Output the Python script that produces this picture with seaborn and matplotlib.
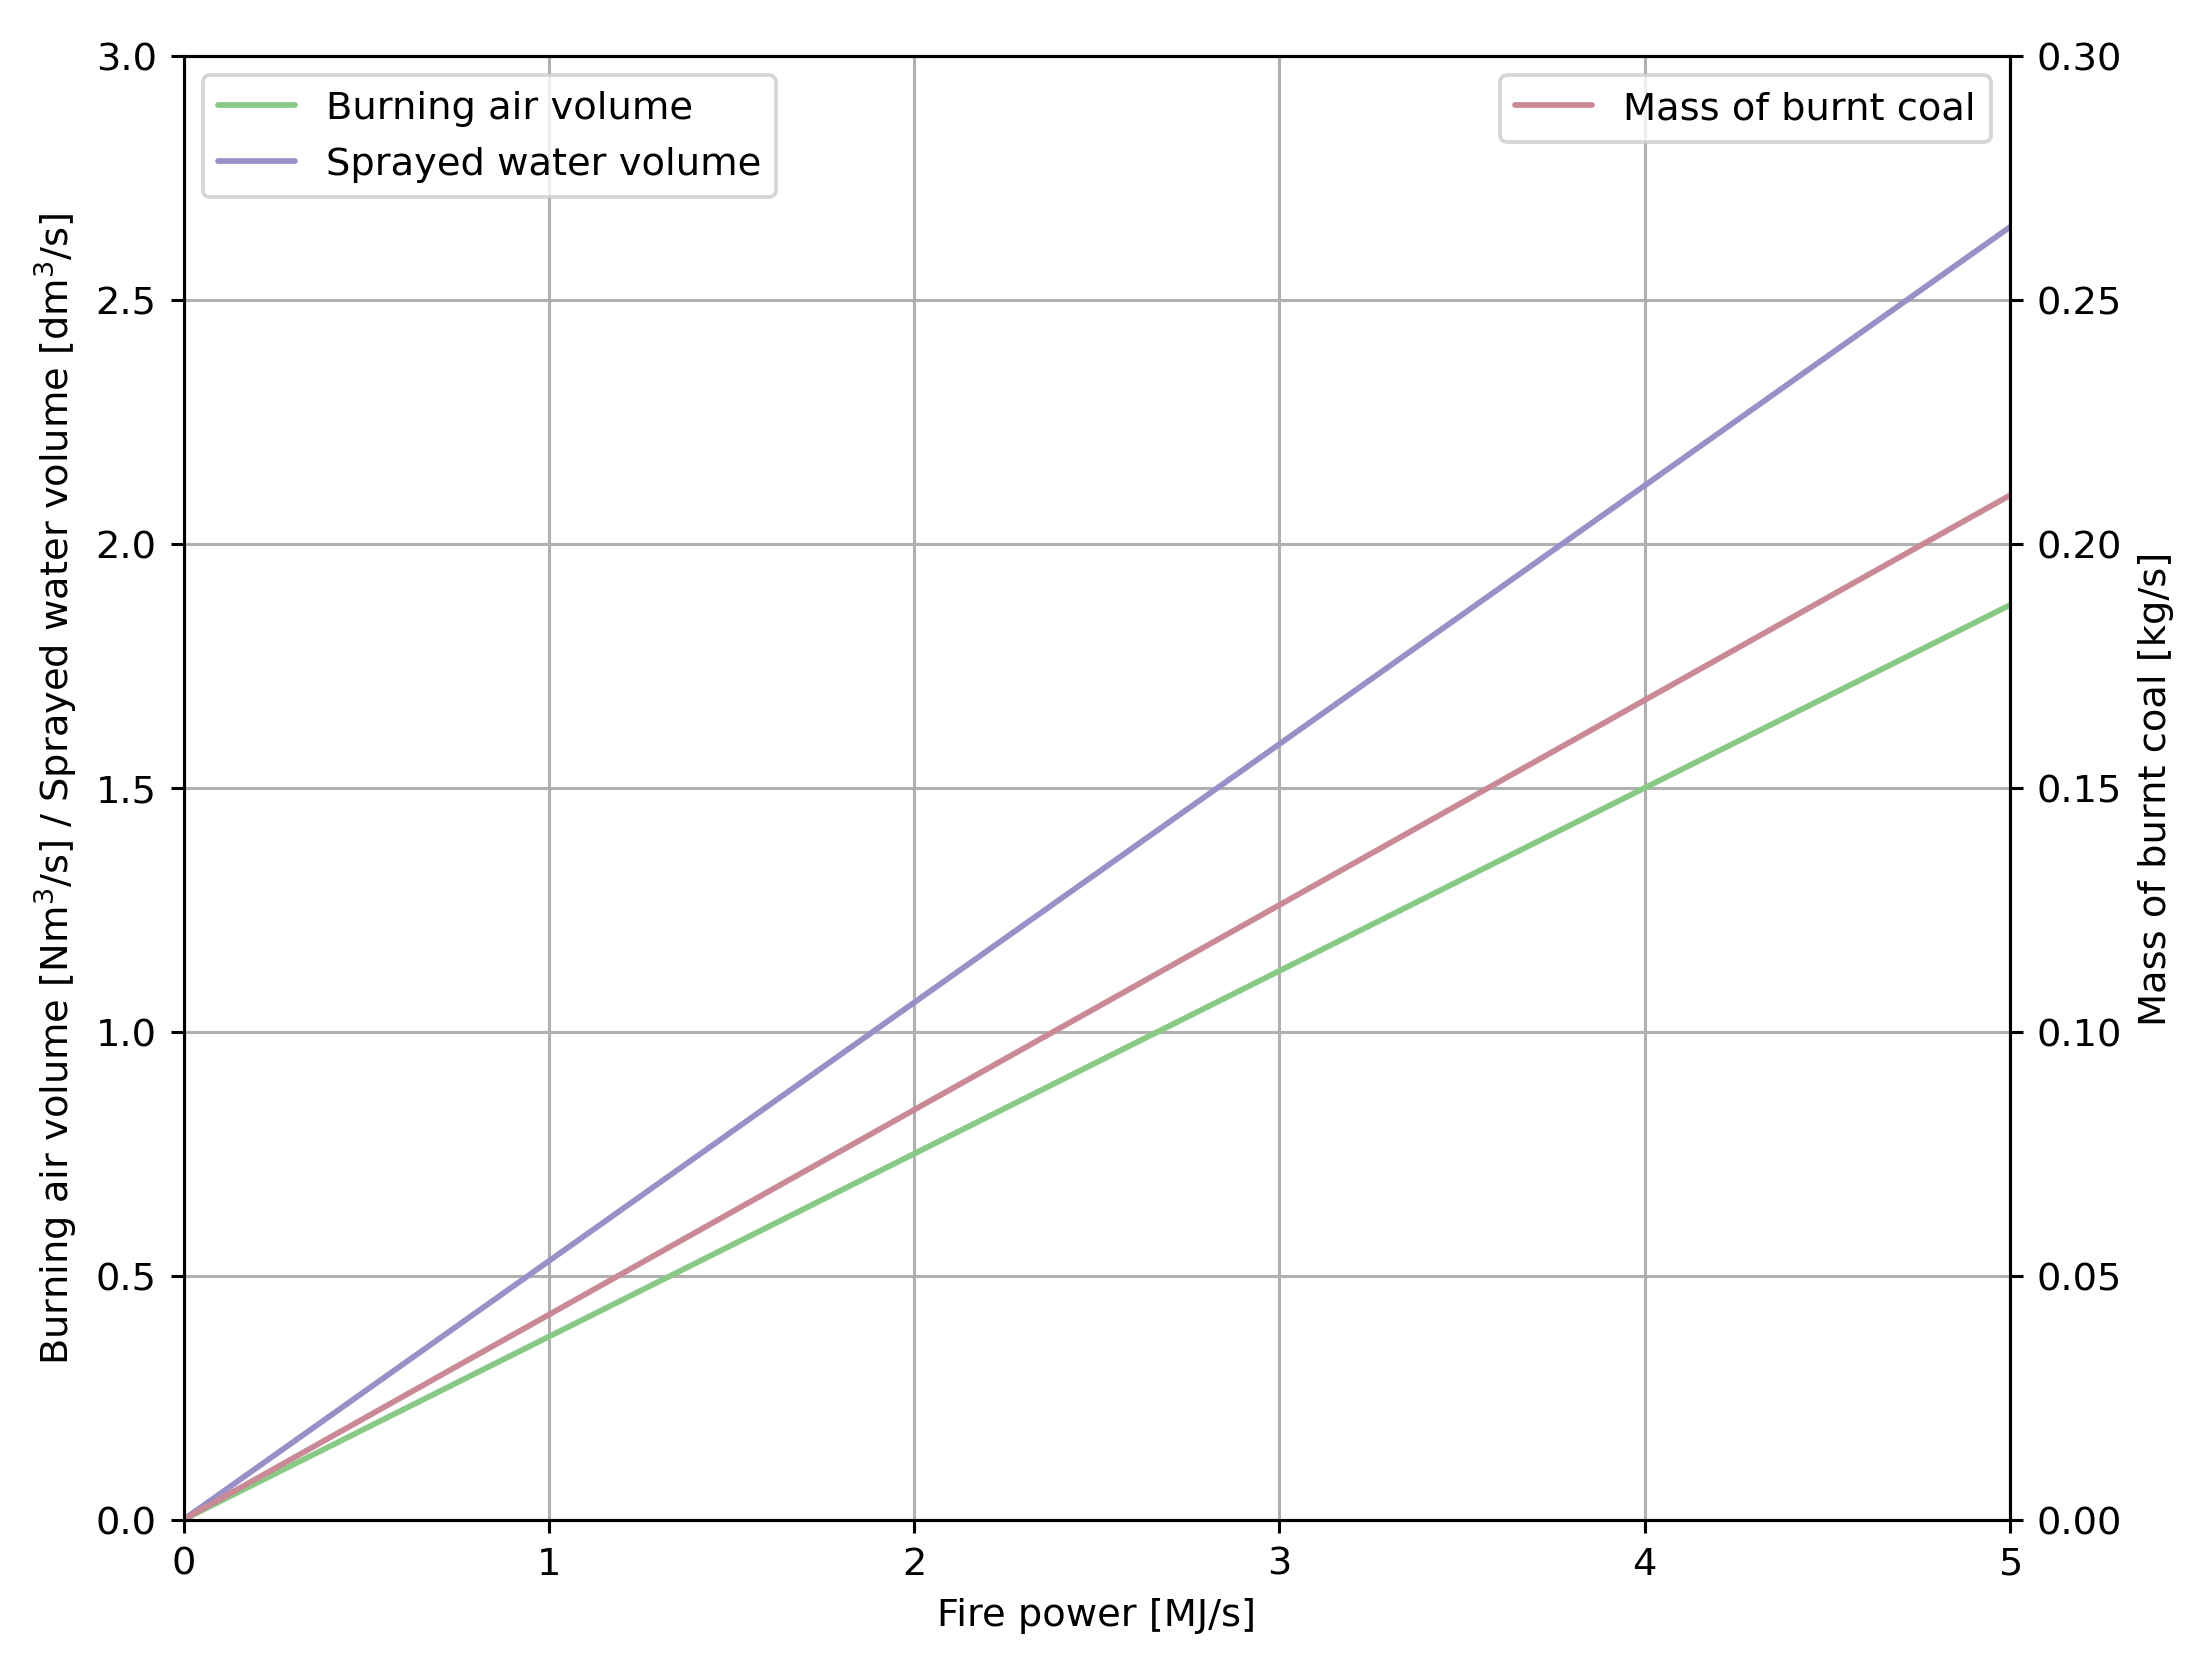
import matplotlib
matplotlib.use("Agg")
import matplotlib.pyplot as plt
import seaborn as sns
import pandas as pd

fire_power = [0, 1, 2, 3, 4, 5]
air_volume = [0, 0.375, 0.75, 1.125, 1.5, 1.875]
water_volume = [0, 0.53, 1.06, 1.59, 2.12, 2.65]
coal_mass = [0, 0.042, 0.084, 0.126, 0.168, 0.21]

sns.set_style("ticks")
plt.rcParams['font.family'] = ['DejaVu Sans']
for k in ["text.color", "axes.labelcolor", "xtick.color", "ytick.color", "axes.edgecolor"]:
    plt.rcParams[k] = "black"

fig = plt.figure(figsize=(8, 6.04), dpi=276.4)
ax = fig.add_axes([0.083, 0.0895, 0.826, 0.8765])
df = pd.DataFrame({"x": fire_power, "air": air_volume, "water": water_volume, "coal": coal_mass})
sns.lineplot(data=df, x="x", y="air", ax=ax, color="#88c985", label="Burning air volume")
sns.lineplot(data=df, x="x", y="water", ax=ax, color="#9a90c8", label="Sprayed water volume")
ax.set_xlim(0, 5); ax.set_ylim(0, 3)
ax.grid(True, color="#b0b0b0")
ax.set_xlabel("Fire power [MJ/s]")
ax.set_ylabel("Burning air volume [Nm$^3$/s] / Sprayed water volume [dm$^3$/s]")
ax.legend(loc="upper left")
ax2 = ax.twinx()
sns.lineplot(data=df, x="x", y="coal", ax=ax2, color="#c98a96", label="Mass of burnt coal")
ax2.set_ylim(0, 0.3)
ax2.set_yticks([0, 0.05, 0.1, 0.15, 0.2, 0.25, 0.3])
ax2.set_yticklabels(["0.00", "0.05", "0.10", "0.15", "0.20", "0.25", "0.30"])
ax2.set_ylabel("Mass of burnt coal [kg/s]")
ax2.legend(loc="upper right")
fig.savefig("out.png", dpi=276.4)
